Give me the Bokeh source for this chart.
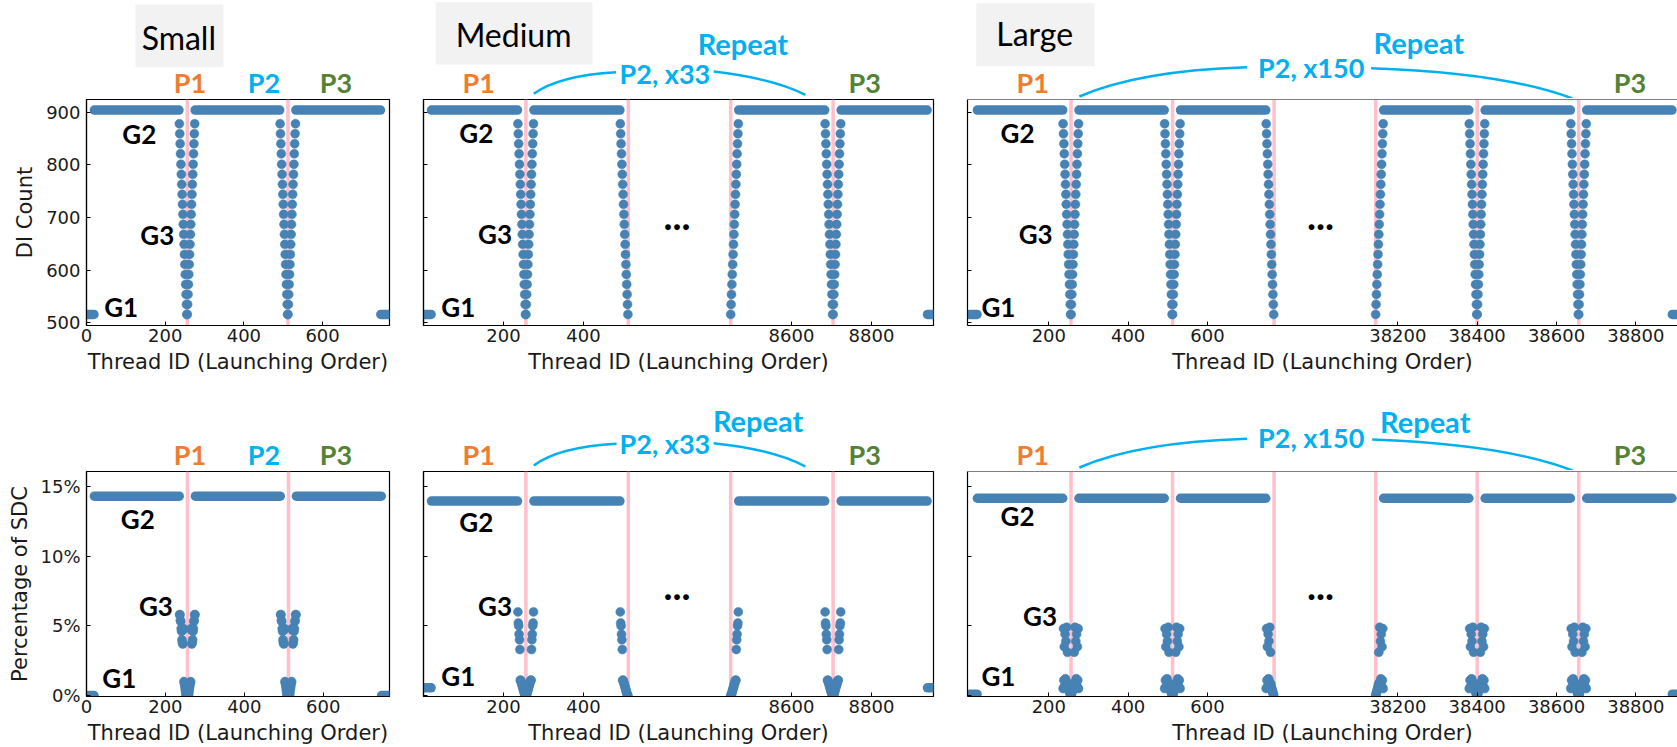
from bokeh.plotting import figure
from bokeh.models import Range1d, Label, Span, FixedTicker
from bokeh.layouts import row, column
from bokeh.embed import file_html
from bokeh.resources import INLINE

# ---------------- data ----------------
break_gap = 256                      # display width (threads) of the "..." gap
small_break = None
medium_break = [512, 8448]           # threads after 512 and before 8448 are not shown
large_break = [768, 38144]

small_boundaries = [256, 512]
medium_boundaries = [256, 512, 8448, 8704]
large_boundaries = [256, 512, 768, 38144, 38400, 38656]

# G2 plateau thread ranges (first / last thread)
small_g2_first = [20, 276, 532]
small_g2_last = [235, 491, 747]
medium_g2_first = [20, 276, 8468, 8724]
medium_g2_last = [235, 491, 8683, 8939]
large_g2_first = [20, 276, 532, 38164, 38420, 38676]
large_g2_last = [235, 491, 747, 38379, 38635, 38891]

# G1 thread ranges
small_g1_first = [0, 748]
small_g1_last = [19, 767]
medium_g1_first = [0, 8940]
medium_g1_last = [19, 8959]
large_g1_first = [0, 38892]
large_g1_last = [19, 38911]

# G3 columns: 20 threads just before / just after these boundaries
small_g3_before = [256, 512]
small_g3_after = [256, 512]
medium_g3_before = [256, 512, 8704]
medium_g3_after = [256, 8448, 8704]
large_g3_before = [256, 512, 768, 38400, 38656]
large_g3_after = [256, 512, 38144, 38400, 38656]

# DI count
di_g1 = 516
di_g2 = 904
di_g3 = [516, 535, 554, 573, 592, 611, 630, 649, 668, 687,
         706, 725, 744, 763, 782, 801, 821, 840, 859, 878]   # nearest -> farthest from boundary

# Percentage of SDC (G3 lists: nearest -> farthest thread from the boundary)
small_sdc_g1, medium_sdc_g1, large_sdc_g1 = 0.0, 0.55, 0.1
small_sdc_g2, medium_sdc_g2, large_sdc_g2 = 14.3, 13.95, 14.15
small_sdc_g3 = [0.0, 0.0, 0.0, 0.1, 0.3, 0.5, 0.7, 0.9, 1.0, 4.8,
                4.7, 3.7, 3.8, 4.0, 4.6, 4.8, 5.3, 5.4, 5.8, 5.8]
medium_sdc_g3 = [0.0, 0.0, 0.1, 0.2, 0.3, 0.4, 0.5, 0.6, 0.7, 0.8,
                 0.9, 1.0, 1.1, 1.1, 3.3, 4.0, 4.4, 5.0, 5.2, 6.0]
large_sdc_g3 = [0.0, 0.1, 0.2, 0.3, 0.4, 0.5, 0.6, 0.8, 3.1, 0.9,
                4.9, 1.0, 3.9, 1.2, 4.4, 0.7, 3.5, 1.1, 4.8, 0.5]

small_xticks = [0, 200, 400, 600]
medium_xticks = [200, 400, 8600, 8800]
large_xticks = [200, 400, 600, 38200, 38400, 38600, 38800]
di_yticks = [500, 600, 700, 800, 900]
sdc_yticks = [0, 5, 10, 15]
sdc_ylabels = ["0%", "5%", "10%", "15%"]

cfg = {
    "Small": dict(brk=small_break, bounds=small_boundaries,
                  g2=(small_g2_first, small_g2_last), g1=(small_g1_first, small_g1_last),
                  g3=(small_g3_before, small_g3_after),
                  sdc=(small_sdc_g1, small_sdc_g2, small_sdc_g3), xticks=small_xticks),
    "Medium": dict(brk=medium_break, bounds=medium_boundaries,
                   g2=(medium_g2_first, medium_g2_last), g1=(medium_g1_first, medium_g1_last),
                   g3=(medium_g3_before, medium_g3_after),
                   sdc=(medium_sdc_g1, medium_sdc_g2, medium_sdc_g3), xticks=medium_xticks),
    "Large": dict(brk=large_break, bounds=large_boundaries,
                  g2=(large_g2_first, large_g2_last), g1=(large_g1_first, large_g1_last),
                  g3=(large_g3_before, large_g3_after),
                  sdc=(large_sdc_g1, large_sdc_g2, large_sdc_g3), xticks=large_xticks),
}

# ---------------- styling / layout ----------------
STEEL = "#4682B4"
PINK = "#FFC0CB"
C_P1, C_P2, C_P3 = "#ED7D31", "#00B0F0", "#548235"
TXT = "#1a1a1a"

COL_W = {"Small": 413, "Medium": 543, "Large": 721}
BORDER_L = {"Small": (84, 86), "Medium": (10, 10), "Large": (11, 11)}
BORDER_R = {"Small": (24, 24), "Medium": (23, 23), "Large": (0, 0)}
XRANGE = {"Small": ((0, 770), (0, 768)), "Medium": ((0, 1275), (0, 1275)),
          "Large": ((-5, 1785), (-5, 1785))}
HEAD_H = (98, 94)
DATA_H = (278, 277)
DATA_BT = 1
DATA_BB = (50, 49)

# in-plot group labels: centre of the text (x display units, y data units)
GLAB = {
    "Small": ({"G2": (134, 859), "G3": (180, 667), "G1": (88, 530)},
              {"G2": (130, 12.66), "G3": (176, 6.42), "G1": (83, 1.26)}),
    "Medium": ({"G2": (132, 860), "G3": (179, 669), "G1": (87, 531)},
               {"G2": (132, 12.48), "G3": (179, 6.45), "G1": (87, 1.4)}),
    "Large": ({"G2": (121, 860), "G3": (167, 669), "G1": (73, 531)},
              {"G2": (121, 12.9), "G3": (178, 5.7), "G1": (73, 1.4)}),
}
DOTS = {"Medium": (634, 702, 7.84), "Large": (885, 702, 7.84)}

# header annotations in header pixel coordinates (y measured from header top)
HEAD = {
    ("Small", 0): dict(box=(66.7, 186.7, 4, 66.7), box_text=(125.8, 36.7),
                       P=[("P1", 141, 81.5, C_P1), ("P2", 242, 81.5, C_P2), ("P3", 340, 81.5, C_P3)]),
    ("Small", 1): dict(P=[("P1", 141, 77.5, C_P1), ("P2", 242, 77.5, C_P2), ("P3", 340, 77.5, C_P3)]),
    ("Medium", 0): dict(box=(13, 180, 1.7, 64), box_text=(95.9, 33.7),
                        P=[("P1", 58.8, 81.5, C_P1), ("P3", 469.7, 81.5, C_P3)],
                        rep=(340, 43), lab=("P2, x33", 257, 72.5),
                        arcs=[(117.4, 93.3, 204.9, 71.7, 144, 75), (309, 71, 406.6, 94.3, 372.7, 78)]),
    ("Medium", 1): dict(P=[("P1", 58.8, 77.5, C_P1), ("P3", 469.7, 77.5, C_P3)],
                        rep=(356.3, 44), lab=("P2, x33", 257, 67.3),
                        arcs=[(117.4, 89, 205.6, 67.3, 144, 70.5), (309, 66.7, 406.6, 90, 372.7, 73)]),
    ("Large", 0): dict(box=(9, 129, 2.7, 65.7), box_text=(68.2, 33.3),
                       P=[("P1", 66.3, 81.5, C_P1), ("P3", 672.7, 81.5, C_P3)],
                       rep=(458.3, 42.2), lab=("P2, x150", 349, 66.7),
                       arcs=[(113.6, 96, 283.8, 66.7, 174, 70), (409.9, 67.7, 614.3, 98, 544, 72)]),
    ("Large", 1): dict(P=[("P1", 66.3, 77.5, C_P1), ("P3", 672.7, 77.5, C_P3)],
                       rep=(464.8, 44.8), lab=("P2, x150", 349, 60.7),
                       arcs=[(113.6, 91, 283.8, 62.3, 174, 65.5), (411, 63, 614.3, 94, 544, 67.5)]),
}


def to_disp(threads, brk):
    """Broken x axis: map thread IDs to display positions."""
    out = []
    for t in threads:
        if brk is None or t <= brk[0]:
            out.append(t)
        else:
            out.append(t - (brk[1] - brk[0]) + break_gap)
    return out


def text_label(x, y, text, size, color="black", style="bold"):
    return Label(x=x, y=y, text=text, text_font="Lato", text_font_style=style,
                 text_font_size=size, text_color=color, text_align="center",
                 text_baseline="middle")


def header_figure(name, r):
    w = COL_W[name]
    h = HEAD_H[r]
    p = figure(width=w, height=h, x_range=Range1d(0, w), y_range=Range1d(h, 0),
               output_backend="svg", toolbar_location=None, min_border=0,
               x_axis_type=None, y_axis_type=None)
    p.outline_line_color = None
    p.background_fill_color = "white"
    p.border_fill_color = "white"
    d = HEAD[(name, r)]
    if "box" in d:
        l, rr, t, b = d["box"]
        p.quad(left=[l], right=[rr], top=[t], bottom=[b], fill_color="#F2F2F2", line_color=None)
        bx, by = d["box_text"]
        p.add_layout(text_label(bx, by, name, "32px", "black", "normal"))
    for txt, x, y, col in d["P"]:
        p.add_layout(text_label(x, y, txt, "27px", col))
    if "rep" in d:
        p.add_layout(text_label(d["rep"][0], d["rep"][1], "Repeat", "29px", C_P2))
        t, x, y = d["lab"]
        p.add_layout(text_label(x, y, t, "27px", C_P2))
        arcs = d["arcs"]
        p.quadratic(x0=[a[0] for a in arcs], y0=[a[1] for a in arcs],
                    x1=[a[2] for a in arcs], y1=[a[3] for a in arcs],
                    cx=[a[4] for a in arcs], cy=[a[5] for a in arcs],
                    line_color=C_P2, line_width=2.5)
    return p


def data_figure(name, metric):
    c = cfg[name]
    r = 0 if metric == "di" else 1
    brk = c["brk"]
    xr = XRANGE[name][r]
    yr = (495, 924) if metric == "di" else (-0.07, 16.07)
    p = figure(width=COL_W[name], height=DATA_H[r], x_range=Range1d(*xr), y_range=Range1d(*yr),
               output_backend="svg", toolbar_location=None,
               min_border_left=BORDER_L[name][r], min_border_right=BORDER_R[name][r],
               min_border_top=DATA_BT, min_border_bottom=DATA_BB[r])
    p.xgrid.visible = False
    p.ygrid.visible = False
    p.background_fill_color = "white"
    p.border_fill_color = "white"
    if name == "Large":
        p.outline_line_color = None
        p.add_layout(Span(location=yr[1], dimension="width", line_color="black", line_width=1.2))
    else:
        p.outline_line_color = "black"
        p.outline_line_alpha = 1.0
        p.outline_line_width = 1.2

    for b in to_disp(c["bounds"], brk):
        p.add_layout(Span(location=b, dimension="height", line_color=PINK,
                          line_width=3.5, level="underlay"))

    if metric == "di":
        lvl_g1, lvl_g2, prof = di_g1, di_g2, di_g3
    else:
        lvl_g1, lvl_g2, prof = c["sdc"]

    for (first, last), lvl in ((c["g2"], lvl_g2), (c["g1"], lvl_g1)):
        x0 = to_disp(first, brk)
        x1 = to_disp(last, brk)
        p.segment(x0=x0, y0=[lvl] * len(x0), x1=x1, y1=[lvl] * len(x1),
                  line_color=STEEL, line_width=9.5, line_cap="round")

    xs, ys = [], []
    for b in c["g3"][0]:
        for k, v in enumerate(prof):
            xs.append(b - 1 - k)
            ys.append(v)
    for b in c["g3"][1]:
        for k, v in enumerate(prof):
            xs.append(b + k)
            ys.append(v)
    p.scatter(to_disp(xs, brk), ys, size=9, fill_color=STEEL, line_color=STEEL, line_width=0.5)

    xa = p.xaxis[0]
    ya = p.yaxis[0]
    dt = to_disp(c["xticks"], brk)
    xa.ticker = FixedTicker(ticks=dt)
    xa.major_label_overrides = {d: str(t) for d, t in zip(dt, c["xticks"])}
    for ax in (xa, ya):
        ax.major_tick_in = 4
        ax.major_tick_out = 0
        ax.minor_tick_line_color = None
        ax.axis_line_color = "black"
        ax.axis_line_width = 1.2
        ax.major_tick_line_color = "black"
        ax.major_label_text_font = "DejaVu Sans"
        ax.major_label_text_color = TXT
        ax.axis_label_text_font = "DejaVu Sans"
        ax.axis_label_text_font_style = "normal"
        ax.axis_label_text_font_size = "21px"
        ax.axis_label_text_color = TXT
    xa.major_label_text_font_size = "18px"
    xa.major_label_standoff = 3
    xa.axis_label = "Thread ID (Launching Order)"
    xa.axis_label_standoff = 5

    yt = di_yticks if metric == "di" else sdc_yticks
    ya.ticker = FixedTicker(ticks=yt)
    if name == "Small":
        if metric == "sdc":
            ya.major_label_overrides = {t: l for t, l in zip(sdc_yticks, sdc_ylabels)}
        ya.axis_label = "DI Count" if metric == "di" else "Percentage of SDC"
        ya.major_label_text_font_size = "18px"
        ya.major_label_standoff = 6
        ya.axis_label_standoff = 6 if metric == "di" else 5
    else:
        ya.major_label_overrides = {t: "" for t in yt}
        ya.major_label_text_font_size = "1px"
        ya.major_label_standoff = 0

    for txt, (x, y) in GLAB[name][r].items():
        p.add_layout(text_label(x, y, txt, "26px"))
    if name in DOTS:
        x, y_di, y_sdc = DOTS[name]
        p.add_layout(text_label(x, y_di if metric == "di" else y_sdc, "...", "38px"))
    return p


cols = []
for name in ["Small", "Medium", "Large"]:
    cols.append(column(header_figure(name, 0), data_figure(name, "di"),
                       header_figure(name, 1), data_figure(name, "sdc")))
layout = row(*cols)

open("out.html", "w").write(file_html(layout, INLINE))
